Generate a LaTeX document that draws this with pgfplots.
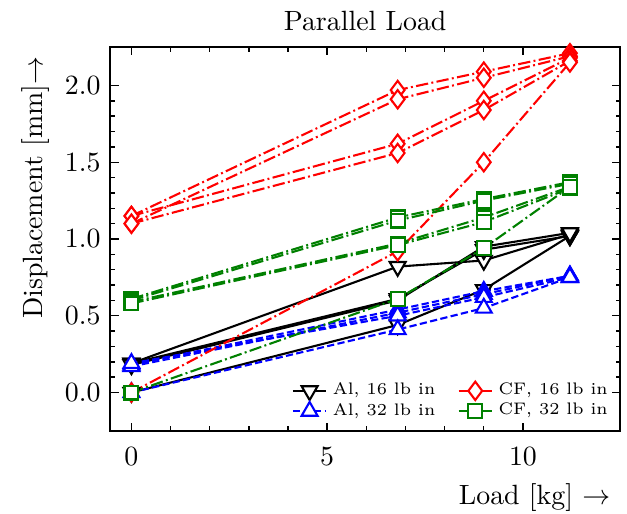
\documentclass[border=0pt]{standalone}
\usepackage{pgfplots}
\usepackage{pgfplotstable}
\pgfplotsset{compat=1.18}
\definecolor{mplgreen}{RGB}{0,128,0}

\pgfplotstableread{
x b1 b2 b3 b4
0 0.19 0.19 0.0 0.18
6.8 0.82 0.61 0.44 0.60
9.0 0.86 0.93 0.67 0.95
11.2 1.03 1.02 1.02 1.04
}\alsixteen

\pgfplotstableread{
x a1 a2 a3 a4
0 0.18 0.17 0.19 0.0
6.8 0.54 0.52 0.50 0.41
9.0 0.66 0.64 0.62 0.55
11.2 0.76 0.76 0.75 0.75
}\althirtytwo

\pgfplotstableread{
x r1 r2 r3 r4 r5
0 1.15 1.10 1.15 1.10 0.0
6.8 1.97 1.91 1.62 1.56 0.92
9.0 2.09 2.05 1.90 1.84 1.50
11.2 2.21 2.19 2.18 2.16 2.15
}\cfsixteen

\pgfplotstableread{
x g1 g2 g3 g4 g5
0 0.61 0.60 0.59 0.58 0.0
6.8 1.14 1.12 0.97 0.96 0.61
9.0 1.26 1.25 1.14 1.11 0.94
11.2 1.37 1.36 1.34 1.33 1.34
}\cfthirtytwo

\pgfplotsset{
  al16/.style={black, line width=0.75pt, solid, mark=triangle*, mark size=3.3pt,
    mark options={solid, fill=white, rotate=180}},
  al32/.style={blue, line width=0.75pt, dash pattern=on 2.6pt off 1.2pt, mark=triangle*, mark size=3.3pt,
    mark options={solid, fill=white}},
  cf16/.style={red, line width=0.75pt, dash pattern=on 4.4pt off 1.2pt on 0.7pt off 1.2pt, mark=diamond*, mark size=3.3pt,
    mark options={solid, fill=white}},
  cf32/.style={mplgreen, line width=0.75pt, dash pattern=on 4.4pt off 1.2pt on 0.7pt off 1.2pt, mark=square*, mark size=2.5pt,
    mark options={solid, fill=white}},
}

\begin{document}
\begin{tikzpicture}
\begin{axis}[
  scale only axis, width=183pt, height=137.8pt,
  xmin=-0.54, xmax=12.48, ymin=-0.25, ymax=2.25,
  xtick={0,5,10}, minor x tick num=4,
  ytick={0,0.5,1,1.5,2}, minor y tick num=4,
  tick align=inside, xtick pos=both, ytick pos=both,
  major tick length=3pt, minor tick length=1.6pt,
  axis line style={line width=0.6pt},
  every tick/.style={black, line width=0.5pt},
  yticklabel style={/pgf/number format/.cd, fixed, fixed zerofill, precision=1},
  xticklabel style={yshift=-2.5pt},
  every axis title shift=0pt,
  title={Parallel Load},
  title style={at={(rel axis cs:0.5,1)}, anchor=base, yshift=6pt},
  xlabel={Load [kg] $\rightarrow$},
  xlabel style={at={(rel axis cs:1,0)}, anchor=north east, yshift=-15.5pt},
  ylabel={Displacement [mm]$\rightarrow$},
  ylabel style={at={(rel axis cs:0,1)}, anchor=south east, yshift=18.3pt},
  legend columns=2,
  legend cell align=left,
  legend style={font=\fontsize{6}{7}\selectfont, draw=none, fill=none, at={(rel axis cs:1,0)}, anchor=south east,
    xshift=0.8pt, yshift=0pt, row sep=-2.5pt, /tikz/every even column/.append style={column sep=6pt}},
  legend image code/.code={\draw[mark repeat=2,mark phase=2] plot coordinates {(0cm,0cm) (0.21cm,0cm) (0.42cm,0cm)};},
]
\addplot[al16, forget plot] table[x=x, y=b1] {\alsixteen};
\addplot[al16, forget plot] table[x=x, y=b2] {\alsixteen};
\addplot[al16, forget plot] table[x=x, y=b3] {\alsixteen};
\addplot[al16, forget plot] table[x=x, y=b4] {\alsixteen};
\addplot[al32, forget plot] table[x=x, y=a1] {\althirtytwo};
\addplot[al32, forget plot] table[x=x, y=a2] {\althirtytwo};
\addplot[al32, forget plot] table[x=x, y=a3] {\althirtytwo};
\addplot[al32, forget plot] table[x=x, y=a4] {\althirtytwo};
\addplot[cf16, forget plot] table[x=x, y=r1] {\cfsixteen};
\addplot[cf16, forget plot] table[x=x, y=r2] {\cfsixteen};
\addplot[cf16, forget plot] table[x=x, y=r3] {\cfsixteen};
\addplot[cf16, forget plot] table[x=x, y=r4] {\cfsixteen};
\addplot[cf16, forget plot] table[x=x, y=r5] {\cfsixteen};
\addplot[cf32, forget plot] table[x=x, y=g1] {\cfthirtytwo};
\addplot[cf32, forget plot] table[x=x, y=g2] {\cfthirtytwo};
\addplot[cf32, forget plot] table[x=x, y=g3] {\cfthirtytwo};
\addplot[cf32, forget plot] table[x=x, y=g4] {\cfthirtytwo};
\addplot[cf32, forget plot] table[x=x, y=g5] {\cfthirtytwo};
\addlegendimage{al16}\addlegendentry{Al, 16 lb in}
\addlegendimage{cf16}\addlegendentry{CF, 16 lb in}
\addlegendimage{al32}\addlegendentry{Al, 32 lb in}
\addlegendimage{cf32}\addlegendentry{CF, 32 lb in}
\end{axis}
\pgfresetboundingbox
\path ([shift={(-39.6pt,-29.5pt)}]current axis.south west) rectangle ([shift={(2.5pt,16.9pt)}]current axis.north east);
\end{tikzpicture}
\end{document}
